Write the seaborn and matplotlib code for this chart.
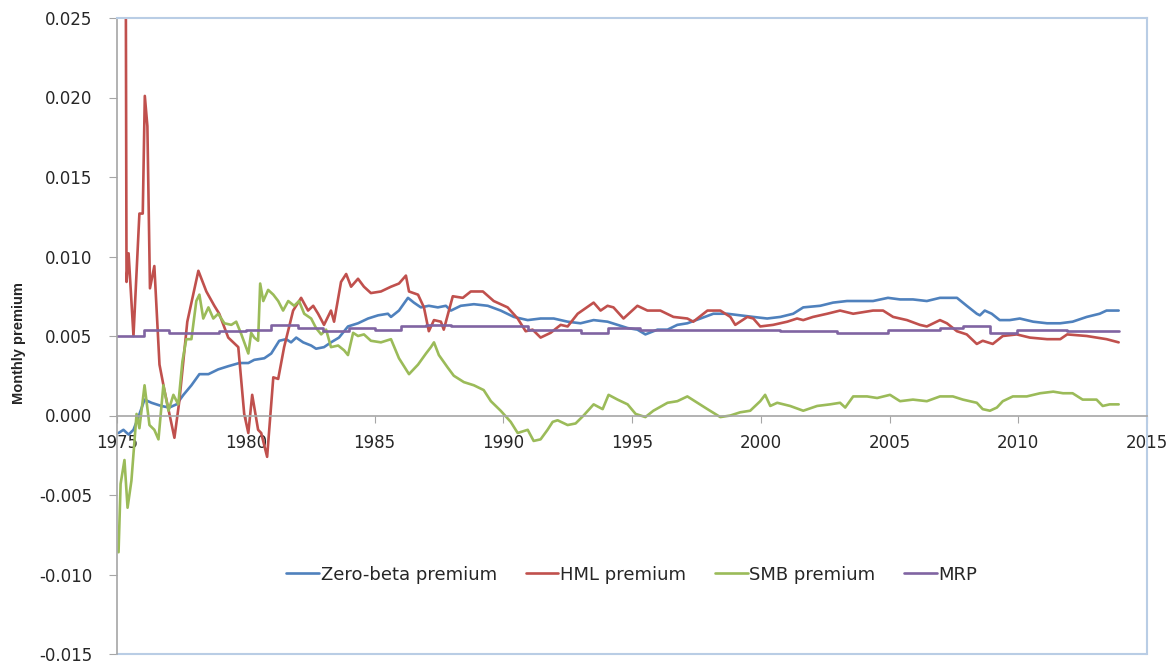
import matplotlib
matplotlib.use("Agg")
import matplotlib.pyplot as plt
import seaborn as sns
import pandas as pd

# (year, monthly premium)
zero_beta = [
    (1975.06, -0.0011), (1975.25, -0.0009), (1975.45, -0.0012), (1975.64, -0.0009),
    (1975.83, -0.0001), (1976.07, 0.0010), (1976.34, 0.0008), (1976.72, 0.0006),
    (1977.03, 0.0005), (1977.31, 0.0007), (1977.58, 0.0013), (1977.89, 0.0019),
    (1978.20, 0.0026), (1978.55, 0.0026), (1978.93, 0.0029), (1979.32, 0.0031),
    (1979.75, 0.0033), (1980.10, 0.0033), (1980.33, 0.0035), (1980.72, 0.0036),
    (1980.99, 0.0039), (1981.30, 0.0047), (1981.57, 0.0048), (1981.76, 0.0046),
    (1981.96, 0.0049), (1982.23, 0.0046), (1982.54, 0.0044), (1982.73, 0.0042),
    (1983.04, 0.0043), (1983.31, 0.0046), (1983.62, 0.0049), (1983.97, 0.0056),
    (1984.36, 0.0058), (1984.75, 0.0061), (1985.14, 0.0063), (1985.52, 0.0064),
    (1985.64, 0.0062), (1985.95, 0.0066), (1986.30, 0.0074), (1986.53, 0.0071),
    (1986.80, 0.0068), (1987.11, 0.0069), (1987.46, 0.0068), (1987.77, 0.0069),
    (1987.97, 0.0066), (1988.35, 0.0069), (1988.86, 0.0070), (1989.40, 0.0069),
    (1989.90, 0.0066), (1990.41, 0.0062), (1990.95, 0.0060), (1991.45, 0.0061),
    (1991.96, 0.0061), (1992.50, 0.0059), (1993.00, 0.0058), (1993.51, 0.0060),
    (1994.05, 0.0059), (1994.44, 0.0057), (1994.83, 0.0055), (1995.21, 0.0054),
    (1995.52, 0.0051), (1995.99, 0.0054), (1996.38, 0.0054), (1996.76, 0.0057),
    (1997.15, 0.0058), (1997.66, 0.0061), (1998.16, 0.0064), (1998.70, 0.0064),
    (1999.20, 0.0063), (1999.71, 0.0062), (2000.25, 0.0061), (2000.76, 0.0062),
    (2001.26, 0.0064), (2001.65, 0.0068), (2002.31, 0.0069), (2002.81, 0.0071),
    (2003.35, 0.0072), (2003.86, 0.0072), (2004.36, 0.0072), (2004.94, 0.0074),
    (2005.41, 0.0073), (2005.91, 0.0073), (2006.45, 0.0072), (2006.96, 0.0074),
    (2007.23, 0.0074), (2007.62, 0.0074), (2008.00, 0.0069), (2008.39, 0.0064),
    (2008.51, 0.0063), (2008.70, 0.0066), (2008.97, 0.0064), (2009.28, 0.0060),
    (2009.67, 0.0060), (2010.06, 0.0061), (2010.58, 0.0059), (2011.12, 0.0058),
    (2011.63, 0.0058), (2012.11, 0.0059), (2012.66, 0.0062), (2013.16, 0.0064),
    (2013.43, 0.0066), (2013.90, 0.0066),
]

hml = [
    (1975.33, 0.0350), (1975.37, 0.0084), (1975.45, 0.0102), (1975.64, 0.0050),
    (1975.87, 0.0127), (1976.00, 0.0127), (1976.08, 0.0201), (1976.18, 0.0182),
    (1976.28, 0.0080), (1976.45, 0.0094), (1976.65, 0.0032), (1976.84, 0.0016),
    (1977.23, -0.0014), (1977.42, 0.0009), (1977.73, 0.0059), (1978.16, 0.0091),
    (1978.47, 0.0078), (1978.78, 0.0069), (1978.97, 0.0064), (1979.32, 0.0049),
    (1979.71, 0.0043), (1979.94, 0.0001), (1980.10, -0.0011), (1980.25, 0.0013),
    (1980.48, -0.0009), (1980.60, -0.0011), (1980.83, -0.0026), (1981.07, 0.0024),
    (1981.26, 0.0023), (1981.49, 0.0043), (1981.84, 0.0066), (1982.15, 0.0074),
    (1982.42, 0.0066), (1982.62, 0.0069), (1982.81, 0.0064), (1983.04, 0.0057),
    (1983.31, 0.0066), (1983.43, 0.0059), (1983.70, 0.0084), (1983.90, 0.0089),
    (1984.09, 0.0081), (1984.36, 0.0086), (1984.59, 0.0081), (1984.86, 0.0077),
    (1985.25, 0.0078), (1985.64, 0.0081), (1985.95, 0.0083), (1986.22, 0.0088),
    (1986.34, 0.0078), (1986.69, 0.0076), (1986.92, 0.0068), (1987.11, 0.0053),
    (1987.31, 0.0060), (1987.58, 0.0059), (1987.69, 0.0054), (1988.04, 0.0075),
    (1988.43, 0.0074), (1988.74, 0.0078), (1989.21, 0.0078), (1989.63, 0.0072),
    (1990.17, 0.0068), (1990.56, 0.0061), (1990.87, 0.0053), (1991.14, 0.0054),
    (1991.45, 0.0049), (1991.84, 0.0052), (1992.23, 0.0057), (1992.50, 0.0056),
    (1992.89, 0.0064), (1993.51, 0.0071), (1993.78, 0.0066), (1994.05, 0.0069),
    (1994.28, 0.0068), (1994.67, 0.0061), (1995.21, 0.0069), (1995.60, 0.0066),
    (1996.10, 0.0066), (1996.61, 0.0062), (1997.15, 0.0061), (1997.38, 0.0059),
    (1997.93, 0.0066), (1998.43, 0.0066), (1998.82, 0.0062), (1999.01, 0.0057),
    (1999.48, 0.0062), (1999.71, 0.0061), (1999.98, 0.0056), (2000.48, 0.0057),
    (2001.03, 0.0059), (2001.41, 0.0061), (2001.65, 0.0060), (2002.03, 0.0062),
    (2002.58, 0.0064), (2003.08, 0.0066), (2003.59, 0.0064), (2004.36, 0.0066),
    (2004.75, 0.0066), (2005.14, 0.0062), (2005.68, 0.0060), (2006.18, 0.0057),
    (2006.45, 0.0056), (2006.96, 0.0060), (2007.23, 0.0058), (2007.62, 0.0053),
    (2008.00, 0.0051), (2008.39, 0.0045), (2008.62, 0.0047), (2009.01, 0.0045),
    (2009.40, 0.0050), (2009.94, 0.0051), (2010.45, 0.0049), (2011.12, 0.0048),
    (2011.63, 0.0048), (2011.90, 0.0051), (2012.66, 0.0050), (2013.43, 0.0048),
    (2013.90, 0.0046),
]

smb = [
    (1975.06, -0.0086), (1975.14, -0.0043), (1975.29, -0.0028), (1975.41, -0.0058),
    (1975.56, -0.0041), (1975.76, 0.0001), (1975.87, -0.0008), (1976.07, 0.0019),
    (1976.26, -0.0006), (1976.45, -0.0009), (1976.61, -0.0015), (1976.80, 0.0019),
    (1977.00, 0.0003), (1977.19, 0.0013), (1977.38, 0.0007), (1977.54, 0.0034),
    (1977.69, 0.0048), (1977.89, 0.0048), (1978.08, 0.0072), (1978.20, 0.0076),
    (1978.35, 0.0061), (1978.55, 0.0068), (1978.74, 0.0061), (1978.93, 0.0064),
    (1979.17, 0.0058), (1979.44, 0.0057), (1979.63, 0.0059), (1979.83, 0.0051),
    (1980.10, 0.0039), (1980.21, 0.0052), (1980.33, 0.0049), (1980.48, 0.0047),
    (1980.56, 0.0083), (1980.68, 0.0072), (1980.87, 0.0079), (1981.07, 0.0076),
    (1981.26, 0.0072), (1981.45, 0.0066), (1981.65, 0.0072), (1981.88, 0.0069),
    (1982.07, 0.0072), (1982.27, 0.0064), (1982.54, 0.0061), (1982.73, 0.0055),
    (1982.93, 0.0051), (1983.12, 0.0054), (1983.31, 0.0043), (1983.59, 0.0044),
    (1983.82, 0.0041), (1983.97, 0.0038), (1984.17, 0.0052), (1984.36, 0.0050),
    (1984.59, 0.0051), (1984.86, 0.0047), (1985.25, 0.0046), (1985.64, 0.0048),
    (1985.95, 0.0036), (1986.34, 0.0026), (1986.69, 0.0032), (1987.00, 0.0039),
    (1987.19, 0.0043), (1987.31, 0.0046), (1987.50, 0.0038), (1987.85, 0.0030),
    (1988.08, 0.0025), (1988.47, 0.0021), (1988.86, 0.0019), (1989.24, 0.0016),
    (1989.52, 0.0009), (1989.90, 0.0003), (1990.29, -0.0004), (1990.56, -0.0011),
    (1990.95, -0.0009), (1991.18, -0.0016), (1991.45, -0.0015), (1991.72, -0.0009),
    (1991.92, -0.0004), (1992.11, -0.0003), (1992.50, -0.0006), (1992.81, -0.0005),
    (1993.12, 0.0000), (1993.51, 0.0007), (1993.86, 0.0004), (1994.09, 0.0013),
    (1994.44, 0.0010), (1994.83, 0.0007), (1995.14, 0.0001), (1995.52, -0.0001),
    (1995.83, 0.0003), (1996.38, 0.0008), (1996.76, 0.0009), (1997.15, 0.0012),
    (1997.54, 0.0008), (1997.93, 0.0004), (1998.43, -0.0001), (1998.82, 0.0000),
    (1999.20, 0.0002), (1999.59, 0.0003), (1999.98, 0.0009), (2000.17, 0.0013),
    (2000.37, 0.0006), (2000.64, 0.0008), (2001.14, 0.0006), (2001.65, 0.0003),
    (2002.19, 0.0006), (2002.69, 0.0007), (2003.08, 0.0008), (2003.28, 0.0005),
    (2003.59, 0.0012), (2004.13, 0.0012), (2004.52, 0.0011), (2005.02, 0.0013),
    (2005.41, 0.0009), (2005.91, 0.0010), (2006.45, 0.0009), (2006.96, 0.0012),
    (2007.46, 0.0012), (2007.85, 0.0010), (2008.39, 0.0008), (2008.62, 0.0004),
    (2008.90, 0.0003), (2009.17, 0.0005), (2009.40, 0.0009), (2009.79, 0.0012),
    (2010.33, 0.0012), (2010.85, 0.0014), (2011.36, 0.0015), (2011.74, 0.0014),
    (2012.11, 0.0014), (2012.50, 0.0010), (2013.04, 0.0010), (2013.28, 0.0006),
    (2013.55, 0.0007), (2013.90, 0.0007),
]

# MRP is a step series: value holds from each year until the next one
mrp = [
    (1975.00, 0.0050), (1976.03, 0.0054), (1977.03, 0.0052), (1978.97, 0.0053),
    (1980.02, 0.0054), (1980.99, 0.0057), (1982.03, 0.0055), (1983.00, 0.0053),
    (1984.00, 0.0055), (1985.00, 0.0054), (1986.03, 0.0056), (1987.00, 0.0057),
    (1987.97, 0.0056), (1990.95, 0.0054), (1993.00, 0.0052), (1994.05, 0.0055),
    (1995.33, 0.0054), (2000.76, 0.0053), (2002.97, 0.0052), (2004.94, 0.0054),
    (2006.96, 0.0055), (2007.85, 0.0056), (2008.90, 0.0052), (2009.94, 0.0054),
    (2011.90, 0.0053), (2013.90, 0.0053),
]

x_ticks = [1975, 1980, 1985, 1990, 1995, 2000, 2005, 2010, 2015]
y_ticks = [-0.015, -0.010, -0.005, 0.0, 0.005, 0.010, 0.015, 0.020, 0.025]
y_tick_labels = ["-0.015", "-0.010", "-0.005", "0.000", "0.005",
                 "0.010", "0.015", "0.020", "0.025"]

sns.set_style("white")
plt.rcParams['font.family'] = ['DejaVu Sans']

fig = plt.figure(figsize=(11.75, 6.66), dpi=100)
ax = fig.add_axes([117 / 1175, 12 / 666, 1030 / 1175, 636 / 666])

series = [
    ("Zero-beta premium", zero_beta, "#4F81BD", "default"),
    ("HML premium", hml, "#C0504D", "default"),
    ("SMB premium", smb, "#9BBB59", "default"),
    ("MRP", mrp, "#8064A2", "steps-post"),
]
for name, pts, col, ds in series:
    df = pd.DataFrame(pts, columns=["year", "premium"])
    sns.lineplot(data=df, x="year", y="premium", color=col, lw=1.9,
                 label=name, ax=ax, drawstyle=ds)

ax.set_xlim(1975, 2015)
ax.set_ylim(-0.015, 0.025)
ax.set_xticks(x_ticks)
ax.set_yticks(y_ticks)
ax.set_yticklabels(y_tick_labels)
ax.set_xlabel("")

# Excel-like frame: grey axes, light blue border
ax.spines['bottom'].set_position(('data', 0))
for s in ['bottom', 'left']:
    ax.spines[s].set_color('#a6a6a6')
    ax.spines[s].set_linewidth(1.2)
for s in ['top', 'right']:
    ax.spines[s].set_color('#b9cde5')
    ax.spines[s].set_linewidth(1.5)
ax.axhline(-0.015, color='#b9cde5', lw=1.5, clip_on=False)

ax.tick_params(axis='x', bottom=True, direction='out', length=5, color='#a6a6a6',
               pad=8, labelsize=12)
ax.tick_params(axis='y', left=True, direction='out', length=6, color='#a6a6a6',
               pad=12, labelsize=12)

ax.set_ylabel("Monthly premium", fontweight='bold', fontsize=10.5,
              family=['Liberation Sans', 'DejaVu Sans'])
ax.yaxis.set_label_coords(-0.088, 0.489)

ax.legend(loc='center', bbox_to_anchor=(0.5, 0.125), ncol=4, frameon=False,
          fontsize=13, handlelength=1.8, columnspacing=1.6, handletextpad=0.1)

fig.savefig("out.png", dpi=100)
